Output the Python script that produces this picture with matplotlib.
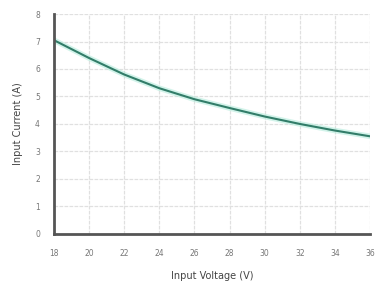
import matplotlib
matplotlib.use("Agg")
import matplotlib.pyplot as plt

voltage = [18, 20, 22, 24, 26, 28, 30, 32, 34, 36]
current = [7.05, 6.4, 5.8, 5.3, 4.9, 4.58, 4.27, 4.0, 3.76, 3.55]
x_ticks = [18, 20, 22, 24, 26, 28, 30, 32, 34, 36]
y_ticks = [0, 1, 2, 3, 4, 5, 6, 7, 8]

fig = plt.figure(figsize=(3.82, 2.92), dpi=100)
ax = fig.add_axes([0.141, 0.199, 0.828, 0.753])
ax.plot(voltage, current, color="#b5ecdc", lw=4, alpha=0.6, solid_capstyle="round")
ax.plot(voltage, current, color="#327d69", lw=1.5)
ax.set_xlim(18, 36)
ax.set_ylim(0, 8)
ax.set_xticks(x_ticks)
ax.set_yticks(y_ticks)
ax.grid(True, color="#e0e0e0", lw=0.9, linestyle=(0, (3, 1)))
for s in ["top", "right"]:
    ax.spines[s].set_visible(False)
for s in ["left", "bottom"]:
    ax.spines[s].set_color("#555555")
    ax.spines[s].set_linewidth(2)
ax.tick_params(length=0, labelsize=5.5, colors="#777777")
ax.tick_params(axis="y", pad=10)
ax.tick_params(axis="x", pad=11)
ax.set_xlabel("Input Voltage (V)", fontsize=7, color="#444444", labelpad=9)
ax.set_ylabel("Input Current (A)", fontsize=7, color="#444444", labelpad=9)
fig.savefig("out.png", dpi=100)
